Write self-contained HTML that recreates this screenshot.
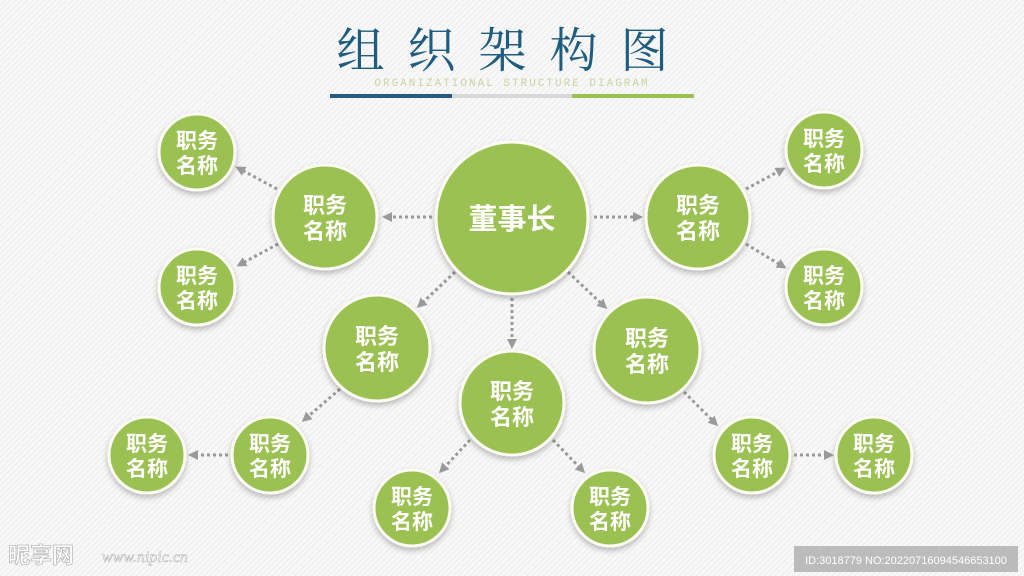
<!DOCTYPE html>
<html><head><meta charset="utf-8"><style>
html,body{margin:0;padding:0}
body{width:1024px;height:576px;overflow:hidden;background:#f6f6f6;position:relative;
background-image:repeating-linear-gradient(135deg,#f8f8f8 0 3px,#ececec 3px 4px);}
svg{position:absolute;left:0;top:0}
</style></head><body>
<svg width="1024" height="576" viewBox="0 0 1024 576">
<defs>
<marker id="a" markerWidth="10" markerHeight="10" refX="7" refY="5" orient="auto" markerUnits="userSpaceOnUse">
<path d="M0,0 L10,5 L0,10 z" fill="#9a9a9a"/></marker>
<filter id="s" x="-30%" y="-30%" width="160%" height="160%"><feDropShadow dx="0" dy="3" stdDeviation="3" flood-color="#000" flood-opacity="0.25"/></filter>
</defs>
<text x="514" y="67" text-anchor="middle" font-family="'Noto Serif CJK SC',serif" font-size="48" fill="#1f5d80" letter-spacing="23">组织架构图</text>
<text x="512" y="86" text-anchor="middle" font-family="'Liberation Mono',monospace" font-size="11" fill="#c8d6a0" letter-spacing="2">ORGANIZATIONAL STRUCTURE DIAGRAM</text>
<rect x="330" y="94" width="122" height="4" fill="#235c80"/>
<rect x="452" y="94" width="120" height="4" fill="#d8d8d8"/>
<rect x="572" y="94" width="122" height="4" fill="#9cc152"/>
<g stroke="#9a9a9a" stroke-width="3" stroke-dasharray="3 3" fill="none" marker-end="url(#a)">
<line x1="432" y1="217" x2="385" y2="217"/>
<line x1="594" y1="217" x2="640" y2="217"/>
<line x1="277" y1="189" x2="238" y2="168"/>
<line x1="278" y1="244" x2="239" y2="265"/>
<line x1="746" y1="189" x2="783" y2="169"/>
<line x1="746" y1="244" x2="784" y2="267"/>
<line x1="455" y1="272" x2="419" y2="306"/>
<line x1="512" y1="298" x2="512" y2="346"/>
<line x1="568" y1="272" x2="605" y2="307"/>
<line x1="340" y1="389" x2="304" y2="420"/>
<line x1="228" y1="455" x2="191" y2="455"/>
<line x1="470" y1="440" x2="441" y2="471"/>
<line x1="553" y1="440" x2="583" y2="471"/>
<line x1="684" y1="392" x2="716" y2="424"/>
<line x1="794" y1="455" x2="831" y2="455"/>
</g>
<g fill="#9cc152" stroke="#fbfdf2" stroke-width="3" filter="url(#s)">
<circle cx="512" cy="218" r="76"/>
<circle cx="325" cy="217" r="52"/>
<circle cx="698" cy="217" r="52"/>
<circle cx="197" cy="152" r="38"/>
<circle cx="197" cy="287" r="38"/>
<circle cx="824" cy="150" r="38"/>
<circle cx="824" cy="287" r="38"/>
<circle cx="377" cy="348" r="53"/>
<circle cx="512" cy="403" r="52"/>
<circle cx="647" cy="350" r="53"/>
<circle cx="270" cy="455" r="38"/>
<circle cx="147" cy="455" r="38"/>
<circle cx="412" cy="508" r="38"/>
<circle cx="610" cy="508" r="38"/>
<circle cx="752" cy="455" r="38"/>
<circle cx="874" cy="455" r="38"/>
</g>
<g fill="#fff" font-family="'Liberation Sans','Noto Sans CJK SC',sans-serif" font-weight="bold" text-anchor="middle">
<text x="512" y="229" font-size="29">董事长</text>
<g font-size="22">
<text x="325" y="213">职务</text><text x="325" y="239">名称</text>
<text x="698" y="213">职务</text><text x="698" y="239">名称</text>
<text x="377" y="344">职务</text><text x="377" y="370">名称</text>
<text x="512" y="399">职务</text><text x="512" y="425">名称</text>
<text x="647" y="346">职务</text><text x="647" y="372">名称</text>
</g>
<g font-size="21">
<text x="197" y="148">职务</text><text x="197" y="173">名称</text>
<text x="197" y="283">职务</text><text x="197" y="308">名称</text>
<text x="824" y="146">职务</text><text x="824" y="171">名称</text>
<text x="824" y="283">职务</text><text x="824" y="308">名称</text>
<text x="270" y="451">职务</text><text x="270" y="476">名称</text>
<text x="147" y="451">职务</text><text x="147" y="476">名称</text>
<text x="412" y="504">职务</text><text x="412" y="529">名称</text>
<text x="610" y="504">职务</text><text x="610" y="529">名称</text>
<text x="752" y="451">职务</text><text x="752" y="476">名称</text>
<text x="874" y="451">职务</text><text x="874" y="476">名称</text>
</g>
</g>
<text x="8" y="563" font-family="'Liberation Sans','Noto Sans CJK SC',sans-serif" font-size="22" font-weight="bold" fill="#fff" stroke="#bbb" stroke-width="0.8">昵享网</text>
<text x="102" y="562" font-family="'Liberation Serif',serif" font-style="italic" font-size="16" fill="#fff" stroke="#bbb" stroke-width="0.6">www.nipic.cn</text>
<rect x="794" y="546" width="224" height="26" fill="#b5b5b5" opacity="0.9"/>
<text x="906" y="564" text-anchor="middle" font-family="'Liberation Sans',sans-serif" font-size="11" fill="#fff">ID:3018779 NO:20220716094546653100</text>
</svg>
</body></html>
